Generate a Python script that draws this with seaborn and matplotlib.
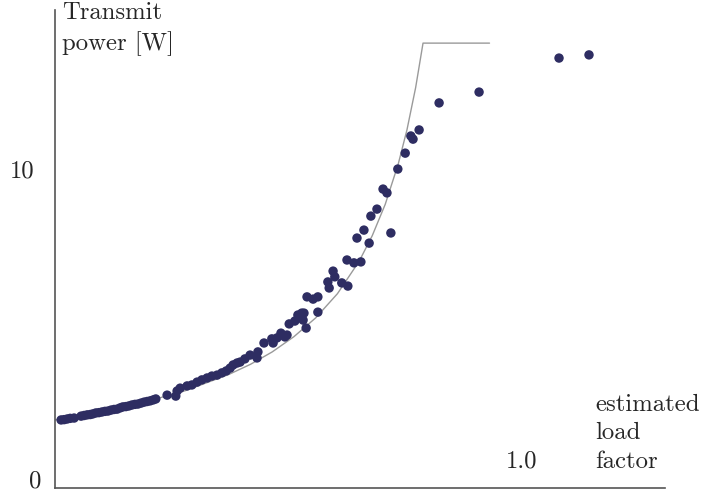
import matplotlib
matplotlib.use("Agg")
import matplotlib.pyplot as plt
import seaborn as sns

load = [0.014, 0.021, 0.028, 0.035, 0.044, 0.060, 0.067, 0.074, 0.081, 0.087,
        0.094, 0.101, 0.108, 0.115, 0.122, 0.129, 0.136, 0.143, 0.150, 0.156,
        0.163, 0.170, 0.177, 0.184, 0.191, 0.198, 0.205, 0.212, 0.219, 0.226,
        0.232, 0.258, 0.278, 0.281, 0.288, 0.304, 0.315, 0.327, 0.338, 0.350,
        0.361, 0.373, 0.384, 0.394, 0.403, 0.410, 0.419, 0.426, 0.437, 0.449,
        0.465, 0.467, 0.481, 0.499, 0.502, 0.511, 0.520, 0.529, 0.534, 0.539,
        0.552, 0.559, 0.568, 0.573, 0.571, 0.578, 0.580, 0.594, 0.605, 0.605,
        0.628, 0.640, 0.644, 0.631, 0.660, 0.674, 0.672, 0.688, 0.704, 0.695,
        0.711, 0.723, 0.727, 0.741, 0.773, 0.755, 0.764, 0.789, 0.806, 0.819,
        0.824, 0.838, 0.884, 0.976, 1.160, 1.229]
power = [2.14, 2.15, 2.17, 2.19, 2.20, 2.26, 2.28, 2.30, 2.31, 2.33,
         2.36, 2.37, 2.39, 2.41, 2.42, 2.45, 2.47, 2.48, 2.52, 2.55,
         2.56, 2.58, 2.61, 2.63, 2.64, 2.67, 2.70, 2.72, 2.74, 2.77,
         2.80, 2.92, 2.89, 3.05, 3.14, 3.21, 3.24, 3.33, 3.40, 3.46,
         3.52, 3.55, 3.62, 3.68, 3.77, 3.87, 3.93, 3.96, 4.06, 4.18,
         4.09, 4.28, 4.56, 4.69, 4.56, 4.72, 4.87, 4.75, 4.81, 5.16,
         5.25, 5.44, 5.50, 5.50, 5.28, 5.03, 6.01, 5.94, 6.01, 5.53,
         6.48, 6.82, 6.64, 6.29, 6.45, 6.35, 7.17, 7.08, 7.11, 7.86,
         8.11, 7.70, 8.55, 8.77, 8.02, 9.40, 9.28, 10.03, 10.53, 11.07,
         10.97, 11.26, 12.11, 12.45, 13.52, 13.62]

# model curve (grey), capped at max power
curve_load = [0.0, 0.1, 0.2, 0.3, 0.4, 0.45, 0.5, 0.55, 0.6, 0.65, 0.7,
              0.73, 0.76, 0.79, 0.81, 0.83, 0.847, 1.0]
curve_power = [2.14, 2.38, 2.68, 3.06, 3.57, 3.89, 4.28, 4.76, 5.35, 6.11, 7.13,
               7.93, 8.92, 10.19, 11.26, 12.59, 13.99, 13.99]

W, H = 722, 492

sns.set_style("white")
plt.rcParams["font.family"] = ["cmr10", "DejaVu Serif"]
plt.rcParams["mathtext.fontset"] = "cm"
plt.rcParams["axes.unicode_minus"] = False

fig = plt.figure(figsize=(W / 100, H / 100), dpi=100)
ax = fig.add_axes([55 / W, 1 - 488 / H, (665 - 55) / W, (488 - 10) / H])

sns.lineplot(x=curve_load, y=curve_power, ax=ax, color="#9a9a9a", lw=1.0,
             estimator=None, sort=False)
sns.scatterplot(x=load, y=power, ax=ax, color="#2e2d62", s=46,
                edgecolor="none", linewidth=0, zorder=3)

ax.set_xlim(0, (665 - 55) / 434.5)
ax.set_ylim(0, (488 - 10) / 31.8)
ax.set_xticks([0.5, 1.0])
ax.set_yticks([10])
ax.set_xticklabels([])
ax.set_yticklabels([])
ax.tick_params(direction="in", length=5, width=1, color="#555555")
for side in ["top", "right"]:
    ax.spines[side].set_visible(False)
for side in ["left", "bottom"]:
    ax.spines[side].set_color("#555555")
    ax.spines[side].set_linewidth(1.2)

fs = 17.8
ls = 1.38
def px(x, y):
    return x / W, 1 - y / H

# va="baseline" lines up the last line of a multi-line text
fig.text(*px(62, 50), "Transmit\npower [W]", fontsize=fs, va="baseline",
         ha="left", linespacing=ls)
fig.text(*px(595, 468), "estimated\nload\nfactor", fontsize=fs, va="baseline",
         ha="left", linespacing=ls)
fig.text(*px(537, 468), "1.0", fontsize=fs, va="baseline", ha="right")
fig.text(*px(34, 178), "10", fontsize=fs, va="baseline", ha="right")
fig.text(*px(41, 487), "0", fontsize=fs, va="baseline", ha="right")

fig.savefig("out.png", dpi=100)
